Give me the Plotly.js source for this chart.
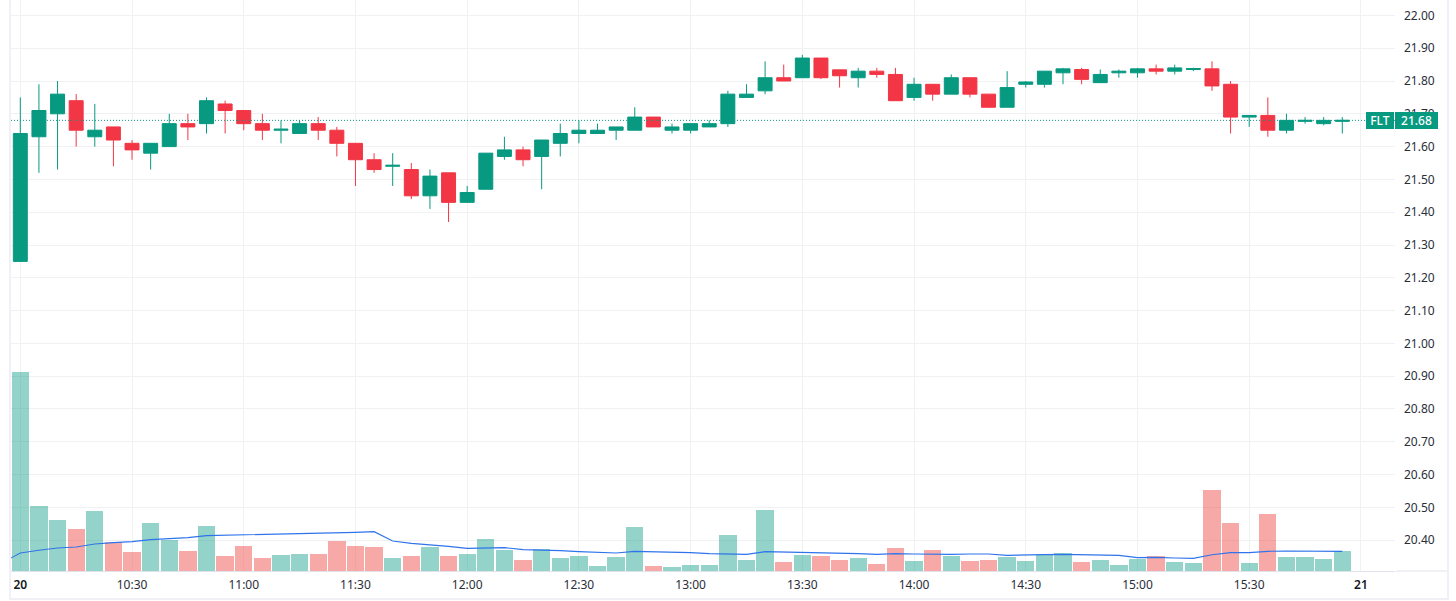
<!DOCTYPE html>
<html>
<head>
<meta charset="utf-8">
<script src="https://cdn.plot.ly/plotly-3.0.1.min.js"></script>
<style>html,body{margin:0;padding:0;background:#fff;overflow:hidden}#chart{width:1456px;height:601px}</style>
</head>
<body>
<div id="chart"></div>
<script>
const symbol = "FLT";
const lastPrice = 21.68;
const opens  = [21.25,21.63,21.70,21.74,21.63,21.66,21.61,21.58,21.60,21.67,21.67,21.73,21.71,21.67,21.65,21.64,21.67,21.65,21.61,21.56,21.54,21.53,21.45,21.52,21.43,21.47,21.57,21.59,21.57,21.61,21.64,21.64,21.65,21.65,21.69,21.65,21.65,21.66,21.67,21.75,21.77,21.81,21.81,21.87,21.834,21.81,21.83,21.82,21.75,21.79,21.76,21.81,21.76,21.72,21.79,21.79,21.825,21.835,21.795,21.825,21.825,21.837,21.83,21.835,21.837,21.79,21.69,21.695,21.65,21.677,21.67,21.677];
const highs  = [21.75,21.79,21.80,21.76,21.73,21.66,21.62,21.61,21.70,21.70,21.75,21.74,21.71,21.70,21.68,21.68,21.69,21.66,21.61,21.58,21.58,21.55,21.53,21.52,21.48,21.58,21.63,21.60,21.62,21.67,21.68,21.67,21.66,21.72,21.69,21.67,21.67,21.68,21.77,21.79,21.86,21.85,21.88,21.87,21.834,21.84,21.84,21.84,21.81,21.79,21.82,21.81,21.76,21.83,21.80,21.83,21.84,21.84,21.835,21.835,21.84,21.85,21.85,21.84,21.86,21.80,21.695,21.75,21.70,21.69,21.69,21.69];
const lows   = [21.25,21.52,21.53,21.60,21.60,21.54,21.56,21.53,21.60,21.62,21.64,21.64,21.65,21.62,21.61,21.64,21.62,21.57,21.48,21.52,21.48,21.44,21.41,21.37,21.43,21.47,21.56,21.54,21.47,21.57,21.61,21.64,21.62,21.65,21.66,21.64,21.64,21.66,21.66,21.75,21.76,21.80,21.81,21.806,21.78,21.78,21.81,21.74,21.74,21.74,21.76,21.75,21.72,21.72,21.78,21.78,21.79,21.79,21.795,21.81,21.81,21.82,21.82,21.83,21.77,21.64,21.66,21.63,21.64,21.67,21.665,21.64];
const closes = [21.64,21.71,21.76,21.65,21.65,21.62,21.59,21.61,21.67,21.66,21.74,21.71,21.67,21.65,21.653,21.67,21.65,21.61,21.56,21.53,21.543,21.45,21.51,21.43,21.46,21.58,21.59,21.56,21.62,21.64,21.65,21.65,21.66,21.69,21.66,21.66,21.67,21.67,21.76,21.76,21.81,21.80,21.87,21.81,21.816,21.83,21.82,21.74,21.79,21.76,21.81,21.76,21.72,21.78,21.797,21.83,21.837,21.805,21.82,21.83,21.837,21.83,21.84,21.838,21.785,21.69,21.695,21.65,21.68,21.68,21.68,21.68];
const volumes = [596,194,152,125,179,86,56,143,92,59,134,44,74,38,47,50,50,89,74,71,38,44,71,44,50,96,63,33,66,39,45,15,42,132,15,12,18,18,108,33,183,27,48,45,33,39,21,69,30,63,45,30,33,42,30,51,54,27,33,18,36,45,27,24,243,144,24,171,42,42,36,60];
const maIndex = [-1,0,1,2,3,4,5,6,7,8,9,10,11,12,13,14,15,16,17,18,19,20,21,22,23,24,25,26,27,28,29,30,31,32,33,34,35,36,37,38,39,40,41,42,43,44,45,46,47,48,49,50,51,52,53,54,55,56,57,58,59,60,61,62,63,64,65,66,67,68,69,70,71];
const maValues = [24,54,62,69,72,81,85,88,94,97,100,106,107,109,110,111,112,113,114,116,118,90,83,79,74,68,69,70,64,63,61,58,56,54,59,58,56,55,52,51,50,58,57,56,56,55,52,50,52,51,50,50,51,51,47,47,49,50,49,47,47,40,41,39,38,49,55,55,59,60,60,59,59];
const tickIndex = [0,6,12,18,24,30,36,42,48,54,60,66,72];
const dayMark = d => '<span style="font-weight:600;color:#131722">' + d + '</span>';
const tickLabels = [dayMark("20"),"10:30","11:00","11:30","12:00","12:30","13:00","13:30","14:00","14:30","15:00","15:30",dayMark("21")];

const GREEN = "#089981", RED = "#F23645";
const barIndex = closes.map((_, i) => i);
const volColors = closes.map((c, i) => c >= opens[i] ? "rgba(8,153,129,0.43)" : "rgba(239,83,80,0.5)");
const FONT = "'Noto Sans', 'Open Sans', Roboto, sans-serif";

const L = 11, R = 1395, B = 571, W = 1456, H = 601;
const px = v => (v - L) / (R - L);
const py = v => (B - v) / B;
const band = (x0, y0, x1, y1, c) => ({type:"rect", xref:"paper", yref:"paper", x0:px(x0), x1:px(x1), y0:py(y0), y1:py(y1), fillcolor:c, line:{width:0}, layer:"below"});

const traces = [
  {type:"bar", x:barIndex, y:volumes, yaxis:"y2", width:0.93, marker:{color:volColors, line:{width:0}}, name:"Volume", hoverinfo:"y"},
  {type:"scatter", mode:"lines", x:maIndex, y:maValues, yaxis:"y2", line:{color:"#2f74ec", width:1.1}, name:"Volume MA", hoverinfo:"y"},
  {type:"candlestick", x:barIndex, open:opens, high:highs, low:lows, close:closes, whiskerwidth:0, name:symbol,
   increasing:{line:{color:GREEN, width:1}, fillcolor:GREEN},
   decreasing:{line:{color:RED, width:1}, fillcolor:RED}}
];

const layout = {
  width:W, height:H, showlegend:false, paper_bgcolor:"#fff", plot_bgcolor:"#fff",
  margin:{l:L, r:W-R, t:0, b:H-B, pad:0}, boxgap:0.25, boxgroupgap:0, bargap:0, hovermode:false,
  font:{family:FONT, size:12, color:"#2a2e39"},
  xaxis:{type:"linear", range:[-0.5,73.83], tickmode:"array", tickvals:tickIndex, ticktext:tickLabels, ticks:"", ticklabelstandoff:3,
    showgrid:true, gridcolor:"#f0f1f3", gridwidth:1, zeroline:false, showline:true, linecolor:"#e0e3eb", linewidth:1,
    rangeslider:{visible:false}, tickfont:{size:12, color:"#2a2e39", family:FONT}, fixedrange:true},
  yaxis:{side:"right", range:[20.306,22.047], dtick:0.1, tick0:20, tickformat:".2f", ticks:"", ticklabelstandoff:8,
    showgrid:true, gridcolor:"#f0f1f3", gridwidth:1, zeroline:false, showline:false, tickfont:{size:12, color:"#2a2e39", family:FONT}, fixedrange:true},
  yaxis2:{overlaying:"y", side:"left", range:[0,1713], visible:false, showgrid:false, zeroline:false, fixedrange:true},
  shapes:[
    band(9,0,11,600,"#f0f0f6"),
    band(1447,0,1449,600,"#f0f0f6"),
    band(9,598,1449,600,"#f0f0f6"),
    band(1396,570.5,1447,571.5,"#e0e3eb"),
    {type:"line", xref:"paper", yref:"y", x0:0, x1:1, y0:lastPrice, y1:lastPrice, line:{color:GREEN, width:1, dash:"1px,2px"}}
  ],
  annotations:[
    {xref:"paper", yref:"y", x:px(1380), y:lastPrice, text:symbol, showarrow:false, xanchor:"center", yanchor:"middle", align:"center", width:28, height:17, bgcolor:GREEN, borderpad:0, borderwidth:0, font:{family:FONT, size:12, color:"#fff", weight:500}},
    {xref:"paper", yref:"y", x:px(1416.5), y:lastPrice, text:lastPrice.toFixed(2), showarrow:false, xanchor:"center", yanchor:"middle", align:"center", width:43, height:17, bgcolor:GREEN, borderpad:0, borderwidth:0, font:{family:FONT, size:12, color:"#fff", weight:500}}
  ]
};
Plotly.newPlot("chart", traces, layout, {displayModeBar:false, staticPlot:true});
</script>
</body>
</html>
